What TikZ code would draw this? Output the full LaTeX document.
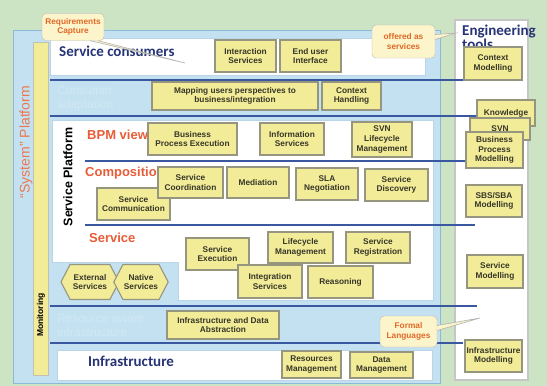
\documentclass[tikz,border=0pt]{standalone}
\usepackage{fontspec}
\setmainfont{Liberation Sans}
\newfontfamily\calib{Carlito}
\usetikzlibrary{shapes.symbols}
\definecolor{bggreen}{RGB}{204,228,196}
\definecolor{panelblue}{RGB}{196,225,241}
\definecolor{panelline}{RGB}{140,185,215}
\definecolor{boxfill}{RGB}{242,235,152}
\definecolor{boxline}{RGB}{150,150,128}
\definecolor{boxtext}{RGB}{55,55,40}
\definecolor{sepblue}{RGB}{58,88,160}
\definecolor{titleblue}{RGB}{38,52,118}
\definecolor{layerred}{RGB}{232,92,55}
\definecolor{sysorange}{RGB}{236,120,80}
\definecolor{calloutfill}{RGB}{252,244,202}
\definecolor{callouttext}{RGB}{225,105,40}
\definecolor{fadedtext}{RGB}{208,232,245}
\newcommand{\ybox}[6]{\node[ybox, minimum width=#4pt-#2pt, minimum height=#5pt-#3pt] (#1) at ({(#2+#4)/2},{(#3+#5)/2}) {#6};}
\newcommand{\sepline}[3]{\draw[sepline] (#1,#3) -- (#2,#3);}

\begin{document}
\begin{tikzpicture}[x=1pt,y=-1pt,
    ybox/.style={draw=boxline, fill=boxfill, line width=1.1pt, text=boxtext, align=center, inner sep=1pt,
        font=\fontsize{8.3}{9.6}\selectfont\bfseries},
    hexbox/.style={ybox, signal, signal to=west and east, signal pointer angle=125},
    callout/.style={draw=gray!55, fill=calloutfill, rounded corners=4pt, text=callouttext, align=center,
        inner sep=1pt, font=\fontsize{8.3}{9.6}\selectfont\bfseries},
    tailline/.style={draw=gray!60, line width=0.6pt},
    whitepanel/.style={fill=white, draw=panelline!60, line width=0.6pt},
    sepline/.style={draw=sepblue, line width=2pt},
    layertitle/.style={text=layerred, font=\fontsize{13}{14}\selectfont\bfseries, inner sep=0pt},
    bigtitle/.style={text=titleblue, font=\calib\fontsize{15}{14}\selectfont\bfseries, inner sep=0pt},
    faded/.style={text=fadedtext, align=left, inner sep=0pt, font=\fontsize{12}{14}\selectfont}]
\useasboundingbox (0,0) rectangle (547,386);
\fill[bggreen] (0,0) rectangle (547,386);

% system platform
\filldraw[fill=panelblue, draw=panelline, line width=1pt] (13,30) rectangle (440,383);
\node[rotate=90, text=sysorange, inner sep=0pt, font=\fontsize{14}{16}\selectfont] (sysplat) at (26,142) {``System'' Platform};
\filldraw[fill=boxfill, draw=boxline!60, line width=0.6pt] (33,42) rectangle (48,375);
\node[rotate=90, inner sep=0pt, font=\fontsize{8.5}{10}\selectfont\bfseries] (monitor) at (41,315) {Monitoring};

% row1
\filldraw[whitepanel] (50,38) rectangle (425,75);
\node[bigtitle, anchor=west] (consumers) at (59,51) {Service consumers};
\ybox{interaction}{215}{40}{276}{72}{Interaction\\Services}
\ybox{enduser}{280}{40}{341}{72}{End user\\Interface}

% row2
\node[faded, anchor=west] (consadapt) at (57,99) {Consumer\\adaptation};
\ybox{mapping}{152}{82}{318}{110}{Mapping users perspectives to\\business/integration}
\ybox{ctxhandling}{322}{82}{381}{110}{Context\\Handling}

% service platform
\filldraw[whitepanel] (52,120) -- (433,120) -- (433,300) -- (178,300) -- (178,262) -- (52,262) -- cycle;
\node[rotate=90, inner sep=0pt, font=\fontsize{12.5}{14}\selectfont\bfseries] (servplat) at (68,177) {Service Platform};
% row3
\node[layertitle, anchor=west] (bpm) at (87,135) {BPM view};
\ybox{bpexec}{148}{123}{237}{155}{Business\\Process Execution}
\ybox{info}{260}{123}{324}{155}{Information\\Services}
\ybox{svnlife}{352}{122}{412}{157}{SVN\\Lifecycle\\Management}
% row4
\node[layertitle, anchor=west] (compo) at (85,173) {Composition};
\ybox{servcomm}{97}{188}{170}{220}{Service\\Communication}
\ybox{servcoord}{158}{167}{223}{198}{Service\\Coordination}
\ybox{mediation}{227}{167}{289}{198}{Mediation}
\ybox{sla}{296}{168}{358}{200}{SLA\\Negotiation}
\ybox{discovery}{365}{169}{428}{201}{Service\\Discovery}
% row5
\node[layertitle, anchor=west] (servlayer) at (89,238) {Service};
\ybox{execution}{186}{238}{249}{270}{Service\\Execution}
\ybox{lifecycle}{268}{232}{333}{263}{Lifecycle\\Management}
\ybox{registration}{346}{232}{410}{263}{Service\\Registration}
\ybox{integration}{238}{265}{302}{298}{Integration\\Services}
\ybox{reasoning}{308}{266}{373}{298}{Reasoning}
\node[hexbox, minimum width=58pt, minimum height=35pt] (external) at (90,282) {External\\Services};
\node[hexbox, minimum width=53pt, minimum height=35pt] (native) at (141,282) {Native\\Services};

% row6
\node[faded, anchor=west] (resadapt) at (57,325) {Resource aware\\infrastructure};
\ybox{infdata}{167}{311}{279}{339}{Infrastructure and Data\\Abstraction}

% row7
\filldraw[whitepanel] (57,350) rectangle (432,380);
\node[bigtitle, anchor=west] (infra) at (88,361) {Infrastructure};
\ybox{resources}{282}{351}{341}{378}{Resources\\Management}
\ybox{datamgmt}{350}{352}{413}{378}{Data\\Management}

% engineering tools
\filldraw[fill=white, draw=gray!45, line width=1.2pt] (455,20) rectangle (528,380);
\node[bigtitle, anchor=north west, align=left] (engtools) at (462,25) {Engineering\\tools};

% layer lines
\sepline{50}{467}{80}
\sepline{50}{476}{116}
\sepline{85}{467}{161}
\sepline{85}{475}{225}
\sepline{50}{477}{306}
\sepline{50}{463}{343}

% tools
\ybox{ctxmodel}{464}{47}{522}{80}{Context\\Modelling}
\ybox{knowledge}{477}{100}{535}{126}{Knowledge}
\ybox{svn}{470}{118}{530}{140}{SVN}
\ybox{bpmodel}{466}{132}{523}{168}{Business\\Process\\Modelling}
\ybox{sbsmodel}{466}{185}{522}{217}{SBS/SBA\\Modelling}
\ybox{servmodel}{467}{255}{523}{288}{Service\\Modelling}
\ybox{inframodel}{465}{340}{522}{372}{Infrastructure\\Modelling}

% callouts
\node[callout, minimum width=62pt, minimum height=27pt] (reqcap) at (73,27) {Requirements\\Capture};
\coordinate (reqtip) at (185,63);
\fill[calloutfill] ([xshift=-14pt]reqcap.south east) -- (reqtip) -- ([xshift=-6pt]reqcap.south east) -- cycle;
\draw[tailline] ([xshift=-14pt]reqcap.south east) -- (reqtip) -- ([xshift=-6pt]reqcap.south east);

\node[callout, minimum width=63pt, minimum height=33pt] (offered) at (403.5,41.5) {offered as\\services};
\coordinate (offtip) at (456,33);
\fill[calloutfill] ([yshift=7pt]offered.east) -- (offtip) -- ([yshift=2pt]offered.east) -- cycle;
\draw[tailline] ([yshift=7pt]offered.east) -- (offtip) -- ([yshift=2pt]offered.east);

\node[callout, minimum width=57pt, minimum height=31pt] (formal) at (408.5,331.5) {Formal\\Languages};
\coordinate (formtip) at (480,318);
\fill[calloutfill] ([yshift=6pt]formal.east) -- (formtip) -- ([yshift=1pt]formal.east) -- cycle;
\draw[tailline] ([yshift=6pt]formal.east) -- (formtip) -- ([yshift=1pt]formal.east);
\end{tikzpicture}
\end{document}
